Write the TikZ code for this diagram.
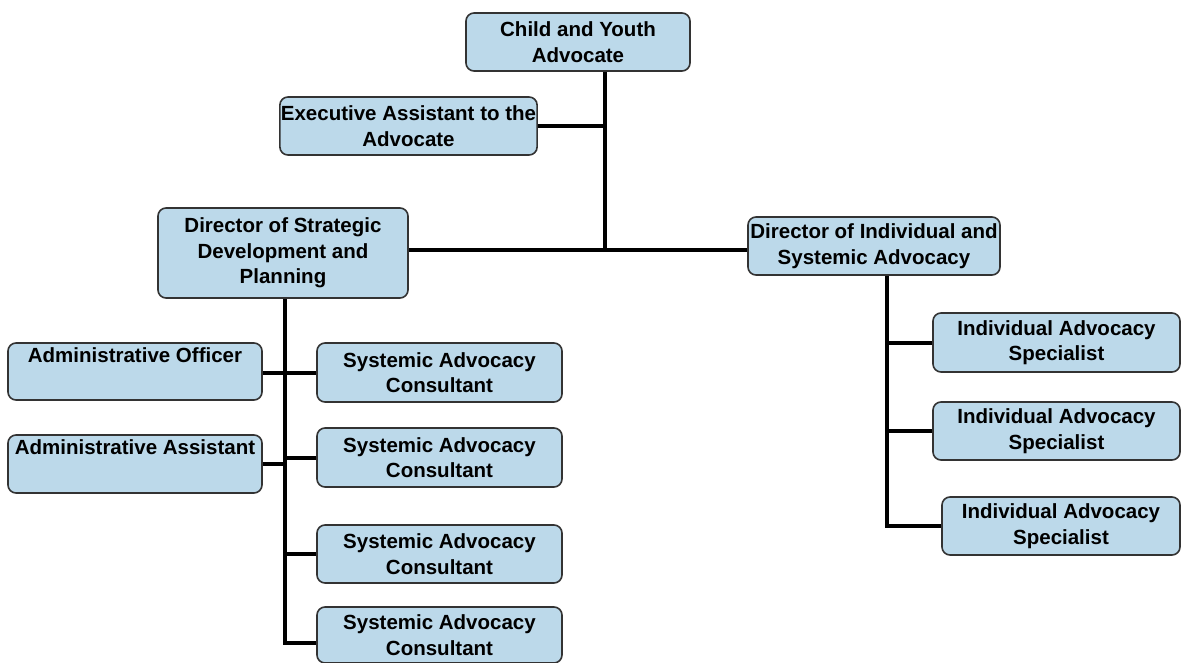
\documentclass[tikz,border=0pt]{standalone}
\usepackage{fontspec}
\setmainfont{Liberation Sans}
\begin{document}
\definecolor{boxfill}{HTML}{BCD9EA}
\definecolor{boxline}{HTML}{333333}
\begin{tikzpicture}[x=1pt,y=-1pt,
  orgbox/.style={draw=boxline, line width=1.6pt, fill=boxfill, rounded corners=8pt,
    align=center, inner sep=1pt, font=\fontsize{20.5}{25.5}\selectfont\bfseries},
  link/.style={line width=4pt, black}]
\useasboundingbox (0,0) rectangle (1183,663);
\node[orgbox, minimum width=224pt, minimum height=58pt] (cya) at (578,42) {Child and Youth\\Advocate};
\node[orgbox, minimum width=253pt, minimum height=58pt] (ea) at (408.5,126) {Executive Assistant to the\\Advocate};
\node[orgbox, minimum width=250pt, minimum height=90pt] (ds) at (283,253) {Director of Strategic\\Development and\\Planning};
\node[orgbox, minimum width=252pt, minimum height=58pt] (di) at (874,246) {Director of Individual and\\Systemic Advocacy};
\node[orgbox, minimum width=254pt, minimum height=57pt] (ao) at (135,371.5) {Administrative Officer\\\strut};
\node[orgbox, minimum width=254pt, minimum height=58pt] (aa) at (135,464) {Administrative Assistant\\\strut};
\node[orgbox, minimum width=245pt, minimum height=59pt] (sac1) at (439.5,372.5) {Systemic Advocacy\\Consultant};
\node[orgbox, minimum width=245pt, minimum height=59pt] (sac2) at (439.5,457.5) {Systemic Advocacy\\Consultant};
\node[orgbox, minimum width=245pt, minimum height=58pt] (sac3) at (439.5,554) {Systemic Advocacy\\Consultant};
\node[orgbox, minimum width=245pt, minimum height=56pt] (sac4) at (439.5,635) {Systemic Advocacy\\Consultant};
\node[orgbox, minimum width=247pt, minimum height=59pt] (ias1) at (1056.5,342.5) {Individual Advocacy\\Specialist};
\node[orgbox, minimum width=247pt, minimum height=58pt] (ias2) at (1056.5,431) {Individual Advocacy\\Specialist};
\node[orgbox, minimum width=238pt, minimum height=58pt] (ias3) at (1061,526) {Individual Advocacy\\Specialist};
\coordinate (j1) at (605,250);
\coordinate (j2) at (285,643);
\coordinate (j3) at (887,526);
\draw[link] (j1 |- cya.south) -- (j1);
\draw[link] (ea.east) -- (ea.east -| j1);
\draw[link] (ds.east |- j1) -- (di.west |- j1);
\draw[link] (j2 |- ds.south) -- (j2) -- (sac4.west |- j2);
\draw[link] (ao.east |- sac1.west) -- (sac1.west);
\draw[link] (aa.east) -- (aa.east -| j2);
\draw[link] (sac2.west) -- (sac2.west -| j2);
\draw[link] (sac3.west) -- (sac3.west -| j2);
\draw[link] (j3 |- di.south) -- (j3) -- (ias3.west |- j3);
\draw[link] (ias1.west) -- (ias1.west -| j3);
\draw[link] (ias2.west) -- (ias2.west -| j3);
\end{tikzpicture}
\end{document}
